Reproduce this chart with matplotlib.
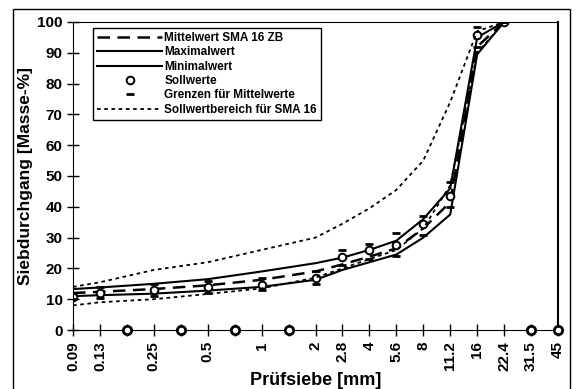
import matplotlib.pyplot as plt
import numpy as np

plt.rcParams['font.family'] = ['Liberation Sans', 'DejaVu Sans']
plt.rcParams['font.weight'] = 'bold'

# sieve positions (evenly spaced categories, some unlabeled)
labels = ["0.09", "0.13", "", "0.25", "", "0.5", "", "1", "", "2", "2.8", "4",
          "5.6", "8", "11.2", "16", "22.4", "31.5", "45"]
pos_data = [0, 1, 3, 5, 7, 9, 10, 11, 12, 13, 14, 15, 16]
pos_empty = [2, 4, 6, 8, 17, 18]

mittel = [12, 12.4, 13.3, 14.5, 16.3, 19, 21.3, 23.8, 26.5, 33, 41.5, 92, 100]
maxw = [13.3, 13.8, 15, 16.5, 19, 21.7, 23.5, 26, 29, 36, 46, 95, 100]
minw = [11, 11.3, 11.8, 12.8, 14, 16.3, 19.5, 22, 24.5, 30, 37.5, 89.5, 100]
soll = [10.8, 12, 13, 14, 14.6, 17, 23.7, 26, 27.6, 34.4, 43.6, 95.8, 100]
grenze_o = [12, 14, 15, 16, 17, 19, 26, 28, 31.5, 37, 48, 98.5, 100]
grenze_u = [10, 10.5, 11, 12, 13, 15, 21, 23, 24, 31, 40, 92, 100]
pos_band = [0, 1, 3, 5, 7, 9, 10, 11, 12, 13, 14, 15, 16, 17, 18]
band_o = [14, 15.5, 19.5, 22, 26, 30, 34.5, 39.5, 45.5, 55, 74, 97, 100, 100, 100]
band_u = [8, 9, 10, 11.7, 13.5, 17, 20, 23, 26, 33, 47, 90, 100, 100, 100]

fig = plt.figure(figsize=(5.76, 3.89), dpi=100)
fig.patches.append(plt.Rectangle((13/576, -0.05), 557/576, 1.05 - 9/389,
                                 transform=fig.transFigure, fill=False,
                                 edgecolor="black", linewidth=1.0))
ax = fig.add_axes([73/576, 1 - 330/389, 485/576, 308/389])

ax.plot(pos_data, mittel, color="black", linestyle=(0, (5, 3)), linewidth=1.8,
        label="Mittelwert SMA 16 ZB")
ax.plot(pos_data, maxw, color="black", linewidth=1.5, label="Maximalwert")
ax.plot(pos_data, minw, color="black", linewidth=1.5, label="Minimalwert")
ax.plot(pos_data, soll, "o", markersize=5.5, markerfacecolor="white",
        markeredgecolor="black", markeredgewidth=1.4, label="Sollwerte")
ax.plot(pos_data, grenze_o, "_", markersize=6, markeredgewidth=2,
        color="black", label="Grenzen für Mittelwerte")
ax.plot(pos_data, grenze_u, "_", markersize=6, markeredgewidth=2,
        color="black")
ax.plot(pos_band, band_o, color="black", linestyle=(0, (2, 2)), linewidth=1.3,
        label="Sollwertbereich für SMA 16")
ax.plot(pos_band, band_u, color="black", linestyle=(0, (2, 2)), linewidth=1.3)
ax.plot(pos_empty, [0] * len(pos_empty), "o", markersize=6,
        markerfacecolor="white", markeredgecolor="black", markeredgewidth=2,
        clip_on=False, zorder=5)

ax.set_xlim(0, 18)
ax.set_ylim(0, 100)
ax.set_xticks(range(len(labels)))
ax.set_xticklabels(labels, rotation=90, fontsize=11, fontweight="bold")
ax.set_yticks(np.arange(0, 101, 10))
ax.tick_params(axis="both", direction="inout", length=8, width=1,
               labelsize=11)
ax.tick_params(axis="x", pad=4)
for s in ["left", "top", "bottom"]:
    ax.spines[s].set_linewidth(0.8)
ax.spines["right"].set_linewidth(1.5)

ax.set_xlabel("Prüfsiebe [mm]", fontsize=13, fontweight="bold", labelpad=1)
ax.set_ylabel("Siebdurchgang [Masse-%]", fontsize=12.5, fontweight="bold",
              labelpad=3)

leg = ax.legend(loc="upper left", bbox_to_anchor=(87/576, 1 - 22/389),
                bbox_transform=fig.transFigure, handlelength=5.5,
                handletextpad=0.2, labelspacing=0.2, borderpad=0.35,
                numpoints=1, fancybox=False, framealpha=1, edgecolor="black",
                prop={"weight": "bold", "size": 8.5})
leg.get_frame().set_linewidth(1.0)

fig.savefig("out.png", dpi=100)
